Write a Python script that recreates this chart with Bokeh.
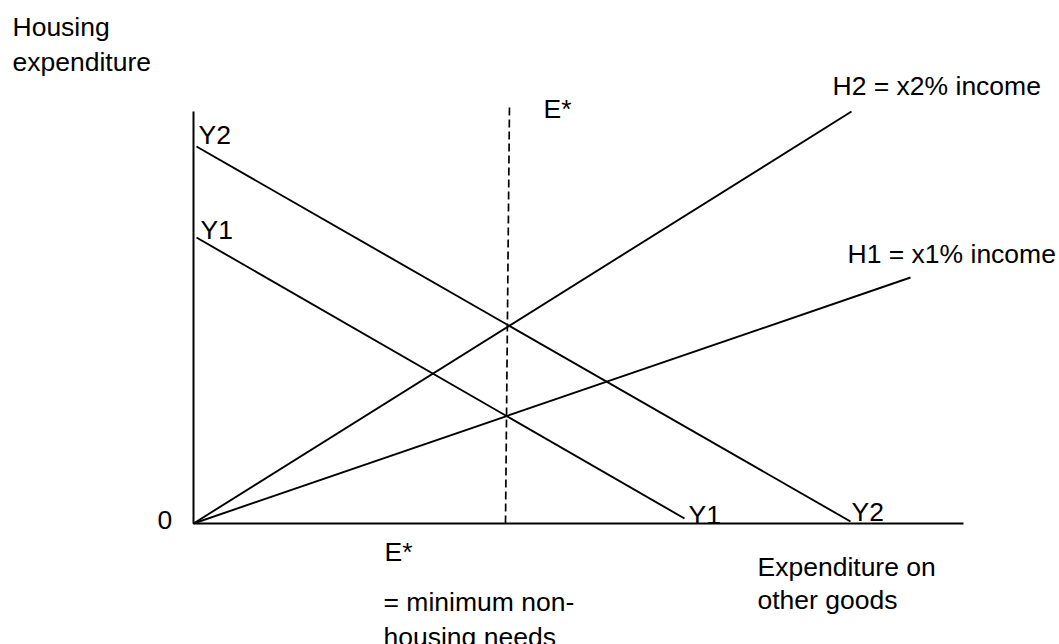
from bokeh.plotting import figure
from bokeh.models import Range1d, ColumnDataSource
from bokeh.core.properties import value
from bokeh.embed import file_html
from bokeh.resources import INLINE

# Conceptual diagram data (abstract units, origin at axes' crossing)
axis_x = [0, 0, 770]
axis_y = [412, 0, 0]

# Budget lines Y1 and Y2 (start, end)
y1_x = [3, 491]
y1_y = [286, 5]
y2_x = [3, 657]
y2_y = [377, 2]

# Housing expenditure rays H1, H2
h1_x = [0, 717]
h1_y = [0, 246]
h2_x = [0, 658]
h2_y = [0, 412]

# E* minimum non-housing needs line
e_x = [312, 316]
e_y = [0, 420]

# Labels
label_text = ["Housing", "expenditure", "E*", "Y2", "Y1",
              "H2 = x2% income", "H1 = x1% income", "0", "E*",
              "Y1", "Y2", "Expenditure on", "other goods",
              "= minimum non-", "housing needs"]
label_x = [-181, -181, 350, 5, 7, 639, 654, -36, 191, 495, 658, 564, 564, 190, 190]
label_y = [497, 462, 415, 389, 294, 438, 270, 4, -28, 9, 12, -43, -76, -78, -113]

p = figure(width=1059, height=644, x_range=Range1d(-193, 866), y_range=Range1d(-121, 523),
           min_border=0, toolbar_location=None, output_backend="svg")
p.axis.visible = False
p.grid.visible = False
p.outline_line_color = None
p.background_fill_color = "white"
p.border_fill_color = "white"

p.line(axis_x, axis_y, line_color="black", line_width=2)
p.line(y1_x, y1_y, line_color="black", line_width=1.9)
p.line(y2_x, y2_y, line_color="black", line_width=1.9)
p.line(h1_x, h1_y, line_color="black", line_width=1.9)
p.line(h2_x, h2_y, line_color="black", line_width=1.9)
p.line(e_x, e_y, line_color="black", line_width=1.7, line_dash="8 4")

src = ColumnDataSource(dict(x=label_x, y=label_y, t=label_text))
p.text(x="x", y="y", text="t", source=src, text_font=value("Liberation Sans"),
       text_font_size="26.5px", text_color="black", text_align="left",
       text_baseline="alphabetic")

open("out.html", "w").write(file_html(p, INLINE))
